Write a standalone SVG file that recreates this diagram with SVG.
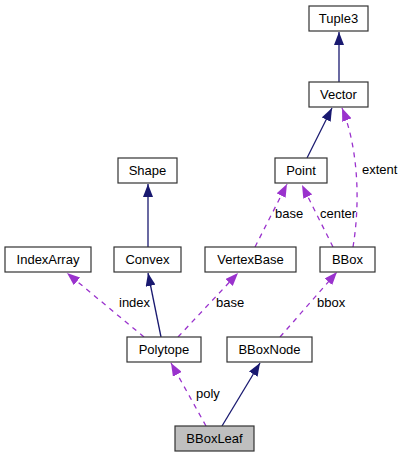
<svg xmlns="http://www.w3.org/2000/svg" width="404" height="457" viewBox="0 0 404 457">
<style>
.n rect{fill:#fff;stroke:#333;stroke-width:1.2}
.n text{font-family:"Liberation Sans",Arial,sans-serif;font-size:13px;text-anchor:middle;fill:#000}
.lbl{font-family:"Liberation Sans",Arial,sans-serif;font-size:13px;fill:#000}
.inh{fill:none;stroke:#191970;stroke-width:1.3;marker-end:url(#an)}
.use{fill:none;stroke:#9a32cd;stroke-width:1.3;stroke-dasharray:5,5;marker-end:url(#ap)}
</style>
<defs>
<marker id="an" viewBox="0 0 13 10" refX="13" refY="5" markerWidth="13" markerHeight="10" markerUnits="userSpaceOnUse" orient="auto"><path d="M0,0L13,5L0,10z" fill="#191970"/></marker>
<marker id="ap" viewBox="0 0 13 10" refX="13" refY="5" markerWidth="13" markerHeight="10" markerUnits="userSpaceOnUse" orient="auto"><path d="M0,0L13,5L0,10z" fill="#9a32cd"/></marker>
</defs>
<rect width="404" height="457" fill="#fff"/>
<g id="edges">
<path class="inh" d="M339,82L339,32"/>
<path class="inh" d="M307,158L332,108"/>
<path class="use" d="M353,247C360,205 359,150 342,108"/>
<text class="lbl" x="362" y="174">extent</text>
<path class="use" d="M255,247L287,184"/>
<text class="lbl" x="275" y="218">base</text>
<path class="use" d="M333,247L302,185"/>
<text class="lbl" x="320" y="218">center</text>
<path class="inh" d="M148,247L148,184"/>
<path class="inh" d="M161,337L148,273"/>
<path class="use" d="M144,337L67,273"/>
<text class="lbl" x="119" y="307">index</text>
<path class="use" d="M178,337L238,273"/>
<text class="lbl" x="216" y="307">base</text>
<path class="use" d="M280,337L337,272"/>
<text class="lbl" x="317" y="307">bbox</text>
<path class="use" d="M206,426L171,363"/>
<text class="lbl" x="196" y="398">poly</text>
<path class="inh" d="M222,426L260,363"/>
</g>
<g id="Tuple3" class="n"><rect x="309" y="6" width="59" height="25"/><text x="338.5" y="23">Tuple3</text></g>
<g id="Vector" class="n"><rect x="309" y="82" width="59" height="25"/><text x="338.5" y="99">Vector</text></g>
<g id="Point" class="n"><rect x="275" y="158" width="52" height="25"/><text x="301" y="175">Point</text></g>
<g id="Shape" class="n"><rect x="118" y="158" width="59" height="25"/><text x="147.5" y="175">Shape</text></g>
<g id="IndexArray" class="n"><rect x="5" y="247" width="86" height="25"/><text x="48" y="264">IndexArray</text></g>
<g id="Convex" class="n"><rect x="114" y="247" width="67" height="25"/><text x="147.5" y="264">Convex</text></g>
<g id="VertexBase" class="n"><rect x="205" y="247" width="91" height="25"/><text x="250.5" y="264">VertexBase</text></g>
<g id="BBox" class="n"><rect x="320" y="247" width="55" height="25"/><text x="347.5" y="264">BBox</text></g>
<g id="Polytope" class="n"><rect x="127" y="337" width="74" height="25"/><text x="164" y="354">Polytope</text></g>
<g id="BBoxNode" class="n"><rect x="227" y="337" width="85" height="25"/><text x="269.5" y="354">BBoxNode</text></g>
<g id="BBoxLeaf" class="n"><rect x="175" y="426" width="79" height="25" style="fill:#bfbfbf"/><text x="214.5" y="443">BBoxLeaf</text></g>
</svg>
